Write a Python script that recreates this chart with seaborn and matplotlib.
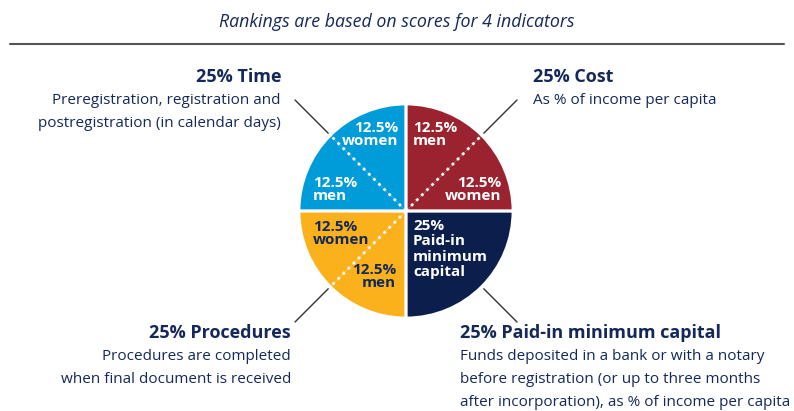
import matplotlib
matplotlib.use("Agg")
import matplotlib.pyplot as plt
import seaborn as sns
import numpy as np

sns.set_theme(style="white")
plt.rcParams['font.family'] = ['Open Sans', 'DejaVu Sans']

# ---- data ----
slice_indicators = ["Cost", "Cost", "Paid-in minimum capital", "Procedures", "Procedures", "Time", "Time"]
slice_groups = ["men", "women", "all", "men", "women", "men", "women"]
slice_values = [12.5, 12.5, 25, 12.5, 12.5, 12.5, 12.5]
slice_labels = ["12.5%\nmen", "12.5%\nwomen", "25%\nPaid-in\nminimum\ncapital",
                "12.5%\nmen", "12.5%\nwomen", "12.5%\nmen", "12.5%\nwomen"]
indicators = ["Cost", "Paid-in minimum capital", "Procedures", "Time"]
indicator_values = [25, 25, 25, 25]
indicator_titles = ["25% Cost", "25% Paid-in minimum capital", "25% Procedures", "25% Time"]
indicator_notes = [
    "As % of income per capita",
    "Funds deposited in a bank or with a notary\nbefore registration (or up to three months\nafter incorporation), as % of income per capita",
    "Procedures are completed\nwhen final document is received",
    "Preregistration, registration and\npostregistration (in calendar days)",
]
title = "Rankings are based on scores for 4 indicators"

colors = {"Cost": "#9b222f", "Paid-in minimum capital": "#0c1f4c",
          "Procedures": "#fbb11b", "Time": "#009bd9"}
label_colors = {"Cost": "white", "Paid-in minimum capital": "white",
                "Procedures": "#13285a", "Time": "white"}
navy = "#14285a"

W, H = 794, 411
fig = plt.figure(figsize=(W / 100, H / 100), dpi=100)
ax = fig.add_axes([0, 0, 1, 1])

def Y(p):
    return H - p

cx, cy, R = 406, Y(211), 107

wedges, _ = ax.pie(slice_values, colors=[colors[i] for i in slice_indicators],
                   startangle=90, counterclock=False, center=(cx, cy), radius=R,
                   wedgeprops=dict(linewidth=0), frame=True)

# indicator boundaries (solid white)
iw, _ = ax.pie(indicator_values, colors=["none"] * 4, startangle=90, counterclock=False,
               center=(cx, cy), radius=R, frame=True,
               wedgeprops=dict(linewidth=2, edgecolor="white", fill=False))
ax.set_xlim(0, W)
ax.set_ylim(0, H)
ax.set_aspect("equal")
ax.axis("off")

# dotted sub-dividers within an indicator
for k in range(len(wedges) - 1):
    if slice_indicators[k] == slice_indicators[k + 1]:
        a = np.deg2rad(wedges[k].theta1)
        ax.plot([cx, cx + R * np.cos(a)], [cy, cy + R * np.sin(a)],
                color="white", lw=2, ls=(0, (1, 1.6)), solid_capstyle="butt", zorder=3)

# slice labels (x, top y, alignment, line spacing)
label_pos = [(413, 121, "left", 0.88), (501, 176, "right", 0.88), (413, 219, "left", 1.12),
             (396, 263, "right", 0.88), (313, 220, "left", 0.88), (313, 176, "left", 0.88),
             (398, 121, "right", 0.88)]
for k, (x, y, ha, ls) in enumerate(label_pos):
    ax.text(x, Y(y), slice_labels[k], ha=ha, va="top", fontsize=11, fontweight="bold",
            color=label_colors[slice_indicators[k]], linespacing=ls, zorder=4)

# leader lines
for w in iw:
    mid = np.deg2rad((w.theta1 + w.theta2) / 2)
    ax.plot([cx + 110 * np.cos(mid), cx + 157 * np.cos(mid)],
            [cy + 110 * np.sin(mid), cy + 157 * np.sin(mid)], color="#333333", lw=1, zorder=2)

# indicator texts
text_pos = {"Cost": (533, 82, "left"), "Paid-in minimum capital": (460, 338, "left"),
            "Procedures": (291, 338, "right"), "Time": (281, 82, "right")}
for ind, t, n in zip(indicators, indicator_titles, indicator_notes):
    x, yb, ha = text_pos[ind]
    ax.text(x, Y(yb), t, ha=ha, va="baseline", fontsize=13, fontweight="bold", color=navy)
    lines = n.split("\n")
    for j, line in enumerate(lines):
        ax.text(x, Y(yb + 22 + 23 * j), line, ha=ha, va="baseline", fontsize=11, color=navy)

ax.text(W / 2, Y(27), title, ha="center", va="baseline", fontsize=12.8, style="italic", color=navy)
ax.plot([10, 784], [Y(44), Y(44)], color="#555555", lw=1.5)

fig.savefig("out.png", dpi=100)
